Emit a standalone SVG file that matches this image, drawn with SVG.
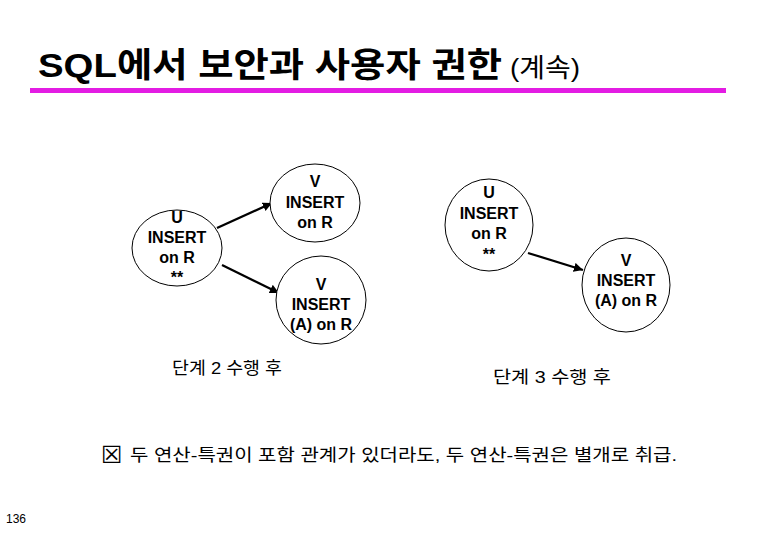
<svg xmlns="http://www.w3.org/2000/svg" width="780" height="540" viewBox="0 0 780 540">
<style>
.node ellipse{fill:#fff;stroke:#000;stroke-width:1}
.node text{font-family:"Liberation Sans",Arial,sans-serif;font-size:16px;font-weight:bold;fill:#000;text-anchor:middle}
.kr{font-family:"Liberation Sans","Noto Sans CJK KR",sans-serif;fill:#000}
.edge{stroke:#000;stroke-width:2.3;fill:none;marker-end:url(#arr)}
</style>
<defs>
<marker id="arr" viewBox="0 0 10 10" refX="10" refY="5" markerWidth="4" markerHeight="4" orient="auto" markerUnits="strokeWidth">
<path d="M0,0 L10,5 L0,10 z" fill="#000"/>
</marker>
</defs>
<rect width="780" height="540" fill="#fff"/>
<g id="title">
<text class="kr" x="38" y="77" font-size="34" font-weight="bold" textLength="464" lengthAdjust="spacingAndGlyphs">SQL에서 보안과 사용자 권한</text>
<text class="kr" x="510" y="77" font-size="26" textLength="70" lengthAdjust="spacingAndGlyphs">(계속)</text>
<rect x="30" y="88" width="696" height="5" fill="#e31ce3"/>
</g>
<g id="connectors">
<line class="edge" x1="217" y1="228" x2="272" y2="203"/>
<line class="edge" x1="222" y1="265" x2="279" y2="293"/>
<line class="edge" x1="528" y1="253" x2="583" y2="270"/>
</g>
<g id="n1" class="node">
<ellipse cx="177" cy="248" rx="45" ry="38"/>
<text x="177" y="223">U</text><text x="177" y="243">INSERT</text><text x="177" y="263">on R</text><text x="177" y="283">**</text>
</g>
<g id="n2" class="node">
<ellipse cx="315" cy="203" rx="45" ry="39"/>
<text x="315" y="187">V</text><text x="315" y="208">INSERT</text><text x="315" y="228">on R</text>
</g>
<g id="n3" class="node">
<ellipse cx="321" cy="300" rx="45" ry="44"/>
<text x="321" y="290">V</text><text x="321" y="310">INSERT</text><text x="321" y="330">(A) on R</text>
</g>
<g id="n4" class="node">
<ellipse cx="489" cy="225" rx="44" ry="46"/>
<text x="489" y="198">U</text><text x="489" y="219">INSERT</text><text x="489" y="239">on R</text><text x="489" y="260">**</text>
</g>
<g id="n5" class="node">
<ellipse cx="626" cy="285" rx="44" ry="47"/>
<text x="626" y="266">V</text><text x="626" y="286">INSERT</text><text x="626" y="306">(A) on R</text>
</g>
<g id="labels">
<text class="kr" x="172" y="374" font-size="17" textLength="110" lengthAdjust="spacingAndGlyphs">단계 2 수행 후</text>
<text class="kr" x="493" y="383" font-size="17" textLength="118" lengthAdjust="spacingAndGlyphs">단계 3 수행 후</text>
<text x="101" y="463" font-family="DejaVu Sans,sans-serif" font-size="24" fill="#000">☒</text>
<text class="kr" x="130" y="461" font-size="17" textLength="547" lengthAdjust="spacingAndGlyphs">두 연산-특권이 포함 관계가 있더라도, 두 연산-특권은 별개로 취급.</text>
<text x="6" y="523" font-family="Liberation Sans,Arial,sans-serif" font-size="12" fill="#000">136</text>
</g>
</svg>
